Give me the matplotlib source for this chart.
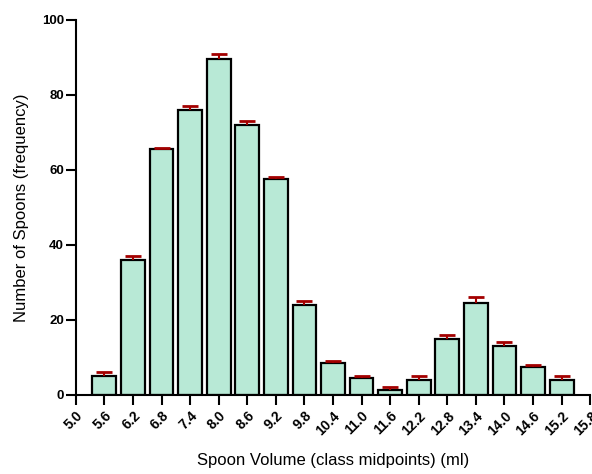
import numpy as np
import matplotlib
matplotlib.use('Agg')
import matplotlib.pyplot as plt

plt.rcParams['font.family'] = ['Liberation Sans', 'DejaVu Sans']

midpoints = [5.6, 6.2, 6.8, 7.4, 8.0, 8.6, 9.2, 9.8, 10.4, 11.0, 11.6, 12.2, 12.8, 13.4, 14.0, 14.6, 15.2]
counts = [5.0, 36.0, 65.5, 76.0, 89.5, 72.0, 57.5, 24.0, 8.5, 4.5, 1.4, 4.0, 15.0, 24.5, 13.0, 7.5, 4.0]
errors = [1.0, 1.0, 0.4, 1.0, 1.5, 1.0, 0.5, 1.0, 0.5, 0.5, 0.6, 1.0, 1.0, 1.5, 1.0, 0.5, 1.0]
xticks = [5.0, 5.6, 6.2, 6.8, 7.4, 8.0, 8.6, 9.2, 9.8, 10.4, 11.0, 11.6, 12.2, 12.8, 13.4, 14.0, 14.6, 15.2, 15.8]
yticks = [0, 20, 40, 60, 80, 100]

fig = plt.figure(figsize=(5.92, 4.74), dpi=100)
ax = fig.add_axes([0.128, 0.167, 0.869, 0.791])

ax.bar(midpoints, counts, width=0.5, color='#b8e9d6', edgecolor='black', linewidth=1.6, zorder=2)
eb = ax.errorbar(midpoints, counts, yerr=[np.zeros(len(errors)), errors], fmt='none',
                 ecolor='#a30000', elinewidth=1.5, capsize=5.5, capthick=2, zorder=3)
# upper error only: hide the caps sitting on the bar tops
eb.lines[1][0].set_visible(False)

ax.set_xlim(5.0, 15.8)
ax.set_ylim(0, 100)
ax.set_xticks(xticks)
ax.set_xticklabels(['%.1f' % t for t in xticks], rotation=45, ha='right',
                   rotation_mode='anchor', fontweight='bold', fontsize=10)
ax.set_yticks(yticks)
ax.set_yticklabels([str(t) for t in yticks], fontweight='bold', fontsize=9.5)

for side in ['top', 'right']:
    ax.spines[side].set_visible(False)
for side in ['left', 'bottom']:
    ax.spines[side].set_linewidth(1.5)
ax.tick_params(axis='both', direction='out', length=7, width=1.5)
ax.tick_params(axis='x', pad=3)
ax.tick_params(axis='y', pad=1.5)

ax.set_xlabel('Spoon Volume (class midpoints) (ml)', fontsize=12, labelpad=11)
ax.set_ylabel('Number of Spoons (frequency)', fontsize=12, labelpad=9)

fig.savefig('out.png', dpi=100)
